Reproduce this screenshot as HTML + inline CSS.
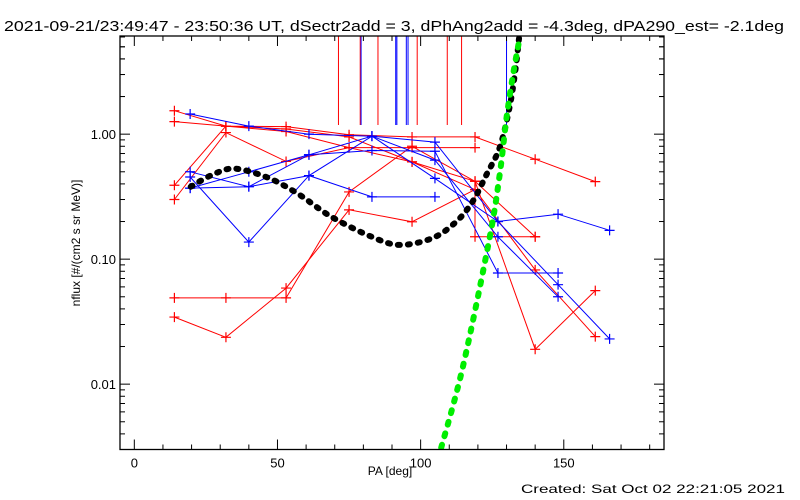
<!DOCTYPE html>
<html><head><meta charset="utf-8"><style>
html,body{margin:0;padding:0;background:#fff;}
svg{display:block;font-family:"Liberation Sans",sans-serif;}
</style></head><body>
<svg id="chart" width="800" height="500" viewBox="0 0 800 500" xmlns="http://www.w3.org/2000/svg">
<rect x="0" y="0" width="800" height="500" fill="#fff"/>
<text x="4" y="31" font-size="15" textLength="780" lengthAdjust="spacingAndGlyphs">2021-09-21/23:49:47 - 23:50:36 UT, dSectr2add = 3, dPhAng2add = -4.3deg, dPA290_est= -2.1deg</text>
<g id="plot"></g>
<text transform="translate(80,243) rotate(-90)" text-anchor="middle" font-size="12">nflux [#/(cm2 s sr MeV)]</text>
<text x="390" y="475" text-anchor="middle" font-size="12">PA [deg]</text>
<text x="521" y="493" font-size="12" textLength="264" lengthAdjust="spacingAndGlyphs">Created: Sat Oct 02 22:21:05 2021</text>
</svg>
<script>
// ---- data ----
const xTicks = [0, 50, 100, 150];
const yTicks = [0.01, 0.1, 1];
const yTickLabels = ["0.01", "0.10", "1.00"];
const redSeries1X = [14, 32, 53, 75, 97, 119];
const redSeries1Y = [1.54, 1.16, 1.05, 0.78, 0.78, 0.78];
const redSeries2X = [14, 32, 53, 75, 97, 119, 140, 161];
const redSeries2Y = [1.26, 1.16, 1.15, 0.99, 0.95, 0.95, 0.63, 0.417];
const redSeries3X = [14, 32, 53, 75, 97, 119, 140, 161];
const redSeries3Y = [0.30, 1.03, 0.605, 0.78, 0.60, 0.36, 0.082, 0.024];
const redSeries4X = [14, 32, 53, 75, 97, 119, 140];
const redSeries4Y = [0.39, 1.16, 1.1, 0.95, 0.6, 0.42, 0.151];
const redSeries5X = [14, 32, 53, 75, 97, 119, 140, 161];
const redSeries5Y = [0.049, 0.049, 0.049, 0.345, 0.8, 0.42, 0.019, 0.056];
const redSeries6X = [14, 32, 53, 75, 97, 119, 119, 140];
const redSeries6Y = [0.0344, 0.0237, 0.0587, 0.248, 0.199, 0.36, 0.151, 0.151];
const blueSeries1X = [19.5, 40, 61, 83, 105, 127, 148, 166];
const blueSeries1Y = [1.45, 1.16, 1.0, 0.964, 0.864, 0.2, 0.0625, 0.023];
const blueSeries2X = [19.5, 40, 61, 83, 105, 127, 148];
const blueSeries2Y = [0.50, 0.38, 0.684, 0.964, 0.62, 0.151, 0.05];
const blueSeries3X = [19.5, 40, 61, 83, 105];
const blueSeries3Y = [0.454, 0.137, 0.466, 0.315, 0.315];
const blueSeries4X = [19.5, 40, 61, 83, 105, 127, 148];
const blueSeries4Y = [0.37, 0.5, 0.684, 0.74, 0.73, 0.0775, 0.0775];
const blueSeries5X = [19.5, 40, 61, 83, 105, 127, 148, 166];
const blueSeries5Y = [0.37, 0.38, 0.466, 0.964, 0.443, 0.2, 0.229, 0.17];
const redVerticalX = [71.3, 78.9, 85.1, 98.8, 109.3, 114.3];
const blueVerticalX = [79.2, 91.3, 91.7, 95, 95.6, 130];
const fitCurveX = [19.7, 27, 34.9, 46.5, 57, 68.6, 82.6, 92.7, 104.3, 112.5, 118.2, 123, 127.6, 131, 132.9, 134.4];
const fitCurveY = [0.38, 0.47, 0.53, 0.45, 0.335, 0.22, 0.152, 0.13, 0.148, 0.2, 0.29, 0.475, 0.78, 1.62, 3.0, 5.9];
const greenLineX = [107.2, 114.8, 124.1, 127.6, 130, 132.3, 134.6];
const greenLineY = [0.0031, 0.0139, 0.148, 0.475, 1.35, 3.0, 5.9];

// ---- axes ----
const L = 120, R = 664, T = 36, B = 449.5;
const xMin = -5, xMax = 185, yMin = 0.003, yMax = 6.1;
const X = v => L + (v - xMin) / (xMax - xMin) * (R - L);
const Y = v => B - (Math.log10(v) - Math.log10(yMin)) / (Math.log10(yMax) - Math.log10(yMin)) * (B - T);
const NS = "http://www.w3.org/2000/svg";
const plot = document.getElementById("plot");
function mk(tag, attrs, parent) {
  const e = document.createElementNS(NS, tag);
  for (const k in attrs) e.setAttribute(k, attrs[k]);
  (parent || plot).appendChild(e);
  return e;
}
function smoothPath(xs, ys) {
  const p = xs.map((v, i) => [X(v), Y(ys[i])]);
  let d = `M${p[0][0].toFixed(1)},${p[0][1].toFixed(1)}`;
  for (let i = 0; i < p.length - 1; i++) {
    const p0 = p[Math.max(0, i - 1)], p1 = p[i], p2 = p[i + 1], p3 = p[Math.min(p.length - 1, i + 2)];
    const c1 = [p1[0] + (p2[0] - p0[0]) / 6, p1[1] + (p2[1] - p0[1]) / 6];
    const c2 = [p2[0] - (p3[0] - p1[0]) / 6, p2[1] - (p3[1] - p1[1]) / 6];
    d += `C${c1[0].toFixed(1)},${c1[1].toFixed(1)} ${c2[0].toFixed(1)},${c2[1].toFixed(1)} ${p2[0].toFixed(1)},${p2[1].toFixed(1)}`;
  }
  return d;
}
const clip = mk("clipPath", {id: "pc"});
mk("rect", {x: L, y: T, width: R - L, height: B - T}, clip);
const gData = mk("g", {"clip-path": "url(#pc)"});

redVerticalX.forEach(v => {
  const l = mk("line", {x1: X(v), x2: X(v), y1: T, y2: 125, stroke: "#f00", "stroke-width": 1}, gData);
  
  
});
blueVerticalX.forEach(v => {
  const l = mk("line", {x1: X(v), x2: X(v), y1: T, y2: 125, stroke: "#00f", "stroke-width": 1}, gData);
  
  
});

function series(xs, ys, color, name) {
  const g = mk("g", {}, gData);
  
  
  const pts = xs.map((v, i) => X(v).toFixed(1) + "," + Y(ys[i]).toFixed(1)).join(" ");
  mk("polyline", {points: pts, fill: "none", stroke: color, "stroke-width": 1}, g);
  xs.forEach((v, i) => {
    const cx = X(v), cy = Y(ys[i]);
    const m = mk("path", {d: `M${cx-5},${cy}H${cx+5}M${cx},${cy-5}V${cy+5}`, stroke: color, "stroke-width": 1.2}, g);
    
    
  });
}
series(redSeries1X, redSeries1Y, "#f00", "red-series-1");
series(redSeries2X, redSeries2Y, "#f00", "red-series-2");
series(redSeries3X, redSeries3Y, "#f00", "red-series-3");
series(redSeries4X, redSeries4Y, "#f00", "red-series-4");
series(redSeries5X, redSeries5Y, "#f00", "red-series-5");
series(redSeries6X, redSeries6Y, "#f00", "red-series-6");
series(blueSeries1X, blueSeries1Y, "#00f", "blue-series-1");
series(blueSeries2X, blueSeries2Y, "#00f", "blue-series-2");
series(blueSeries3X, blueSeries3Y, "#00f", "blue-series-3");
series(blueSeries4X, blueSeries4Y, "#00f", "blue-series-4");
series(blueSeries5X, blueSeries5Y, "#00f", "blue-series-5");

const fit = mk("path", {d: smoothPath(fitCurveX, fitCurveY), fill: "none", stroke: "#000", "stroke-width": 6, "stroke-dasharray": "2 8", "stroke-linecap": "round"}, gData);


const gr = mk("path", {d: smoothPath(greenLineX, greenLineY), fill: "none", stroke: "#0e0", "stroke-width": 6, "stroke-dasharray": "3 9", "stroke-linecap": "round"}, gData);



const frame = mk("rect", {x: L, y: T, width: R - L, height: B - T, fill: "none", stroke: "#000", "stroke-width": 1.3});



for (let v = 0; v <= 180; v += 10) {
  const len = (v % 50 === 0) ? 10 : 5, px = X(v);
  mk("line", {x1: px, x2: px, y1: B, y2: B - len, stroke: "#000", "stroke-width": 1});
  mk("line", {x1: px, x2: px, y1: T, y2: T + len, stroke: "#000", "stroke-width": 1});
}
xTicks.forEach(v => {
  const t = mk("text", {x: X(v), y: B + 18, "text-anchor": "middle", "font-size": 13});
  t.textContent = String(v);
  
  
});
for (let d = -3; d <= 0; d++) {
  for (let m = 1; m <= 9; m++) {
    const v = m * Math.pow(10, d);
    if (v < yMin || v > yMax) continue;
    const len = m === 1 ? 10 : 5, py = Y(v);
    mk("line", {x1: L, x2: L + len, y1: py, y2: py, stroke: "#000", "stroke-width": 1});
    mk("line", {x1: R, x2: R - len, y1: py, y2: py, stroke: "#000", "stroke-width": 1});
  }
}
for (let m = 2; m <= 6; m++) {
  const py = Y(m);
  mk("line", {x1: L, x2: L + 5, y1: py, y2: py, stroke: "#000", "stroke-width": 1});
  mk("line", {x1: R, x2: R - 5, y1: py, y2: py, stroke: "#000", "stroke-width": 1});
}
yTicks.forEach((v, i) => {
  const t = mk("text", {x: L - 4, y: Y(v) + 5, "text-anchor": "end", "font-size": 13});
  t.textContent = yTickLabels[i];
  
  
});
</script>
</body></html>
